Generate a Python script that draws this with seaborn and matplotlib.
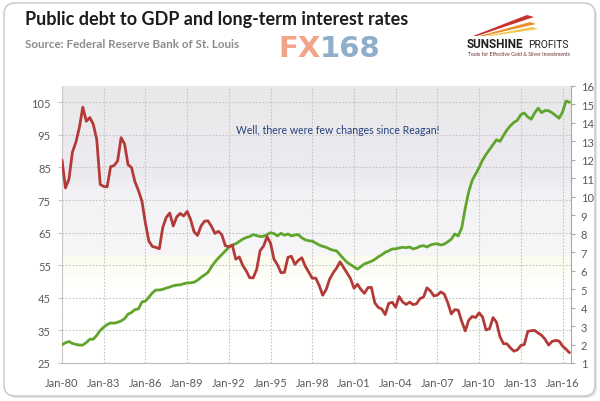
import numpy as np
import pandas as pd
import matplotlib
matplotlib.use("Agg")
import matplotlib.pyplot as plt
import matplotlib.dates as mdates
from matplotlib.patches import FancyBboxPatch, Polygon
import seaborn as sns

# quarterly observations, Q1 1980 .. Q3 2016
quarters = pd.date_range("1980-01-01", "2016-07-01", freq="QS")

# public debt to GDP, % (left axis)
debt_to_gdp = [
    30.6, 31.2, 31.6, 31.0,  30.7, 30.5, 30.5, 31.3,  32.3, 32.3, 33.5, 35.0,
    36.0, 36.8, 37.3, 37.2,  37.5, 37.9, 38.6, 40.0,  40.5, 41.4, 41.6, 43.7,
    44.0, 45.2, 46.5, 47.4,  47.4, 47.6, 48.0, 48.3,  48.7, 48.9, 49.0, 49.3,
    49.6, 49.6, 49.8, 50.4,  51.3, 52.0, 52.8, 54.5,  56.0, 57.2, 58.3, 59.4,
    60.5, 61.2, 61.6, 62.3,  63.0, 63.5, 63.8, 64.4,  64.1, 63.8, 63.9, 64.4,
    65.0, 64.7, 64.0, 64.8,  64.2, 64.6, 64.0, 64.3,  64.4, 63.4, 62.8, 62.5,
    62.4, 61.8, 61.2, 60.8,  60.5, 60.0, 59.6, 59.4,  58.2, 57.0, 55.9, 55.2,
    54.5, 53.8, 54.6, 55.4,  55.8, 56.2, 56.8, 57.6,  58.2, 59.0, 59.4, 60.0,
    60.0, 60.3, 60.5, 60.4,  60.6, 60.0, 60.3, 60.8,  61.0, 60.6, 61.2, 61.5,
    61.6, 61.2, 61.5, 62.2,  63.0, 64.6, 64.0, 66.5,  72.5, 77.5, 81.0, 83.0,
    85.0, 87.3, 89.0, 90.5,  92.0, 93.5, 93.0, 94.8,  96.5, 97.8, 98.8, 99.5,
    101.2, 101.7, 100.5, 99.8,  101.8, 103.2, 101.8, 102.5,  102.4, 101.8, 101.0, 100.1,
    102.0, 105.4, 105.0,
]

# long-term (10y) interest rate, % (right axis)
long_rates = [
    11.99, 10.48, 10.95, 12.42,  12.96, 13.75, 14.85, 14.09,  14.29, 13.93, 13.12, 10.67,
    10.56, 10.54, 11.63, 11.69,  11.94, 13.20, 12.87, 11.74,  11.58, 10.81, 10.34, 9.76,
    8.56, 7.60, 7.31, 7.26,  7.19, 8.34, 8.88, 9.12,  8.42, 8.91, 9.10, 8.96,
    9.21, 8.77, 8.11, 7.91,  8.42, 8.68, 8.70, 8.40,  8.02, 8.13, 7.94, 7.35,
    7.30, 7.38, 6.62, 6.74,  6.28, 5.99, 5.62, 5.61,  6.07, 7.08, 7.33, 7.84,
    7.48, 6.62, 6.32, 5.89,  5.91, 6.72, 6.78, 6.34,  6.56, 6.70, 6.24, 5.91,
    5.59, 5.60, 5.20, 4.67,  4.98, 5.54, 5.88, 6.14,  6.48, 6.18, 5.89, 5.57,
    5.05, 5.27, 4.98, 4.77,  5.08, 5.10, 4.26, 4.01,  3.92, 3.62, 4.23, 4.29,
    4.02, 4.60, 4.30, 4.17,  4.30, 4.16, 4.21, 4.49,  4.57, 5.07, 4.90, 4.63,
    4.68, 4.85, 4.73, 4.26,  3.66, 3.89, 3.86, 3.25,  2.74, 3.31, 3.52, 3.46,
    3.72, 3.49, 2.79, 2.86,  3.46, 3.21, 2.43, 2.05,  2.04, 1.82, 1.64, 1.71,
    1.95, 2.00, 2.71, 2.75,  2.76, 2.62, 2.50, 2.28,  1.97, 2.17, 2.22, 2.19,
    1.92, 1.75, 1.56,
]

year_ticks = pd.date_range("1980-01-01", "2016-01-01", freq="3YS")
left_ticks = [25, 35, 45, 55, 65, 75, 85, 95, 105]
right_ticks = list(range(1, 17))

TITLE = "Public debt to GDP and long-term interest rates"
SOURCE = "Source: Federal Reserve Bank of St. Louis"
NOTE = "Well, there were few changes since Reagan!"

sns.set_style("white")
plt.rcParams["font.family"] = ["Lato", "DejaVu Sans"]

fig = plt.figure(figsize=(6, 4.02), dpi=100)

# decoration layer, pixel coordinates
deco = fig.add_axes([0, 0, 1, 1], zorder=-2)
deco.set_xlim(0, 600)
deco.set_ylim(402, 0)
deco.axis("off")
deco.add_patch(FancyBboxPatch((6, 6), 591, 393, boxstyle="round,pad=0,rounding_size=11",
                              fc="#e4e4e4", ec="none"))
deco.add_patch(FancyBboxPatch((4, 4), 591, 393, boxstyle="round,pad=0,rounding_size=11",
                              fc="white", ec="#c6c6c6", lw=1.0))

deco.text(25, 20, TITLE, fontsize=13, fontweight="bold", color="#1c1c1c", va="center")
deco.text(25, 45, SOURCE, fontsize=8.4, fontweight="bold", color="#8c8c8c", va="center")

# FX168 mark
deco.text(321, 49, "FX", fontsize=21, fontweight="bold", color="#f2a488", ha="right", va="center",
          family="DejaVu Sans")
deco.text(320, 49, "168", fontsize=21, fontweight="bold", color="#8eaecb", ha="left", va="center",
          family="DejaVu Sans")

# Sunshine Profits mark
deco.add_patch(Polygon([(473, 37), (527, 16), (534, 18), (477, 37)], closed=True, fc="#c8322c", ec="none"))
deco.add_patch(Polygon([(479, 37), (530, 23), (536, 25), (484, 37)], closed=True, fc="#e8902a", ec="none"))
deco.add_patch(Polygon([(486, 37), (532, 28), (538, 30), (491, 37)], closed=True, fc="#f3c64a", ec="none"))
deco.text(467, 45, "SUNSHINE", fontsize=8.5, fontweight="bold", color="#1e1e1e", va="center",
          family="Roboto")
deco.text(569, 45, "PROFITS", fontsize=7.4, color="#1e1e1e", va="center", ha="right",
          family="Roboto")
deco.text(468, 54, "Tools for Effective Gold & Silver Investments", fontsize=3.7, color="#6a2a2a",
          va="center")

# main plot area
ax = fig.add_axes([62 / 600, 1 - 364 / 402, (571 - 62) / 600, (364 - 87) / 402])

stops = [0.0, 0.33, 0.40, 0.61, 0.615, 0.72, 1.0]
cols = np.array([
    [232, 232, 234],
    [238, 235, 240],
    [243, 242, 245],
    [246, 245, 247],
    [252, 252, 238],
    [255, 255, 254],
    [255, 255, 255],
]) / 255.0
rows = np.linspace(0, 1, 300)
grad = np.stack([np.interp(rows, stops, cols[:, i]) for i in range(3)], axis=-1)[:, None, :]
ax.imshow(grad, extent=[0, 1, 0, 1], transform=ax.transAxes, aspect="auto", zorder=0,
          interpolation="bilinear")

sns.lineplot(x=quarters, y=debt_to_gdp, ax=ax, color="#5fa52c", lw=2.0, zorder=3)
ax2 = ax.twinx()
sns.lineplot(x=quarters, y=long_rates, ax=ax2, color="#b33a37", lw=2.0, zorder=3)

ax.set_xlim(pd.Timestamp("1980-01-01"), pd.Timestamp("2016-08-10"))
ax.set_ylim(25, 110)
ax2.set_ylim(1, 16)
ax.set_yticks(left_ticks)
ax2.set_yticks(right_ticks)
ax.set_xticks(year_ticks)
ax.xaxis.set_major_formatter(mdates.DateFormatter("%b-%y"))

ax.grid(True, color="#c4c4c4", ls=(0, (1.5, 1.5)), lw=0.8)
ax2.grid(False)
for a in (ax, ax2):
    a.set_xlabel("")
    a.set_ylabel("")
    for s in a.spines.values():
        s.set_visible(False)
ax.spines["left"].set_visible(True)
ax.spines["bottom"].set_visible(True)
ax.spines["left"].set_color("#c8c8c8")
ax.spines["bottom"].set_color("#bdbdbd")
ax2.spines["right"].set_visible(True)
ax2.spines["right"].set_color("#a8a8a8")

ax.tick_params(axis="x", length=4, color="#bdbdbd", labelcolor="#5a5a5a", labelsize=8, pad=6)
ax.tick_params(axis="y", length=3, color="#c8c8c8", labelcolor="#5a5a5a", labelsize=8, pad=5)
ax2.tick_params(axis="y", length=3, color="#a8a8a8", labelcolor="#5a5a5a", labelsize=8, pad=4)

fig.text(236 / 600, 1 - 131 / 402, NOTE, fontsize=7.6, color="#23407a", va="center")

fig.savefig("out.png", dpi=100)
